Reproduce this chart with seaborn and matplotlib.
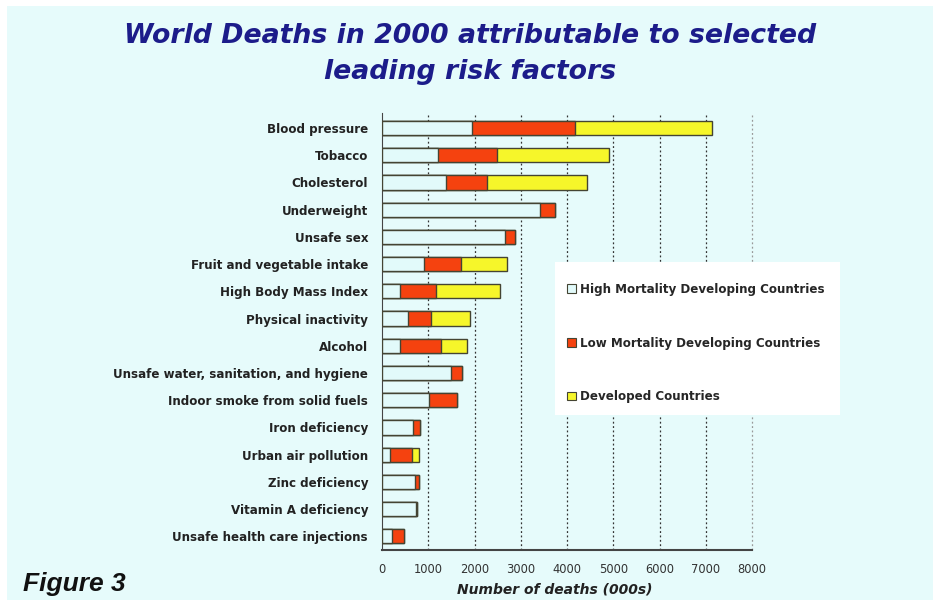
import numpy as np
import pandas as pd
import matplotlib
matplotlib.use("Agg")
import matplotlib.pyplot as plt
from matplotlib.patches import Patch, Rectangle
import seaborn as sns

# risk factors, top to bottom
factors = ["Blood pressure", "Tobacco", "Cholesterol", "Underweight", "Unsafe sex",
           "Fruit and vegetable intake", "High Body Mass Index", "Physical inactivity",
           "Alcohol", "Unsafe water, sanitation, and hygiene", "Indoor smoke from solid fuels",
           "Iron deficiency", "Urban air pollution", "Zinc deficiency",
           "Vitamin A deficiency", "Unsafe health care injections"]

# deaths (000s) by country group
high_mort = [1940, 1220, 1385, 3420, 2650, 910, 390, 556, 390, 1490, 1025, 665, 173, 720, 736, 210]
low_mort = [2230, 1260, 885, 330, 230, 790, 780, 504, 890, 235, 605, 155, 477, 75, 10, 266]
developed = [2970, 2430, 2160, 0, 0, 1010, 1380, 840, 550, 0, 0, 0, 158, 0, 0, 0]

series_names = ["High Mortality Developing Countries",
                "Low Mortality Developing Countries",
                "Developed Countries"]
colors = ["#e2fafa", "#f5420f", "#f6f62a"]
bg = "#e6fbfb"

df = pd.DataFrame({"factor": factors, "high": high_mort, "low": low_mort, "dev": developed})
df["c1"] = df["high"]
df["c2"] = df["high"] + df["low"]
df["c3"] = df["c2"] + df["dev"]

sns.set_style("white")
plt.rcParams["font.family"] = ["DejaVu Sans"]

fig = plt.figure(figsize=(9.4, 6.06), dpi=100, facecolor="white")
# light cyan panel with a thin white border
fig.add_artist(Rectangle((7 / 940, 1 - 600 / 606), 926 / 940, 594 / 606,
                         transform=fig.transFigure, facecolor=bg, edgecolor="none", zorder=-1))

ax = fig.add_axes([382 / 940, 1 - 550 / 606, 370 / 940, 437 / 606])
ax.set_facecolor(bg)

# stacked bars: draw cumulative totals from outermost to innermost
for col, c in zip(["c3", "c2", "c1"], colors[::-1]):
    sns.barplot(data=df, x=col, y="factor", orient="h", color=c, width=0.52,
                edgecolor="#444433", linewidth=1.0, saturation=1, ax=ax, zorder=3)

ax.set_xlim(0, 8000)
ax.set_ylim(15.5, -0.55)
ax.set_xticks(np.arange(0, 8001, 1000))
ax.set_xticklabels([str(v) for v in range(0, 8001, 1000)], fontsize=8.3, color="#333333")
for v in range(1000, 8001, 1000):
    ax.axvline(v, color="#333333" if v < 8000 else "#999999",
               linestyle=(0, (1.5, 2)), linewidth=0.9, zorder=1, clip_on=False)

ax.set_yticks(range(len(factors)))
ax.set_yticklabels(factors, fontsize=8.6, fontweight="bold", color="#222222")
ax.set_yticks(np.arange(-0.5, 16, 1), minor=True)
ax.tick_params(axis="y", which="major", length=0, pad=10)
ax.tick_params(axis="y", which="minor", length=3, direction="out", color="#444444")
ax.tick_params(axis="x", length=5, direction="inout", color="#444444", pad=7)

for s in ["top", "right"]:
    ax.spines[s].set_visible(False)
ax.spines["left"].set_color("#444444")
ax.spines["bottom"].set_color("#444444")
ax.spines["bottom"].set_linewidth(1.5)

ax.set_ylabel("")
ax.set_xlabel("Number of deaths (000s)", fontsize=10, fontweight="bold",
              fontstyle="italic", color="#222222")
ax.xaxis.set_label_coords(0.468, -0.074)

# white legend panel covering the grid
fig.add_artist(Rectangle((555 / 940, 1 - 415 / 606), 285 / 940, 153 / 606,
                         transform=fig.transFigure, facecolor="white",
                         edgecolor="none", zorder=4))
handles = [Patch(facecolor=c, edgecolor="#444433", linewidth=0.8) for c in colors]
leg = fig.legend(handles, series_names, loc="upper left",
                 bbox_to_anchor=(567 / 940, 1 - 283 / 606), frameon=False,
                 handlelength=0.75, handleheight=0.75, handletextpad=0.35,
                 labelspacing=3.4, borderpad=0, borderaxespad=0,
                 prop={"size": 8.6, "weight": "bold"})
leg.set_zorder(5)

title_kw = dict(ha="center", va="center", fontsize=19.3, fontweight="bold",
                fontstyle="italic", color="#1c1c8a")
fig.text(470 / 940, 1 - 36 / 606, "World Deaths in 2000 attributable to selected", **title_kw)
fig.text(470 / 940, 1 - 72 / 606, "leading risk factors", **title_kw)
fig.text(23 / 940, 1 - 584 / 606, "Figure 3", ha="left", va="center",
         fontsize=19, fontweight="bold", fontstyle="italic", color="#111111",
         family=["Liberation Sans Narrow", "Liberation Sans", "DejaVu Sans"])

fig.savefig("out.png", dpi=100, facecolor="white")
